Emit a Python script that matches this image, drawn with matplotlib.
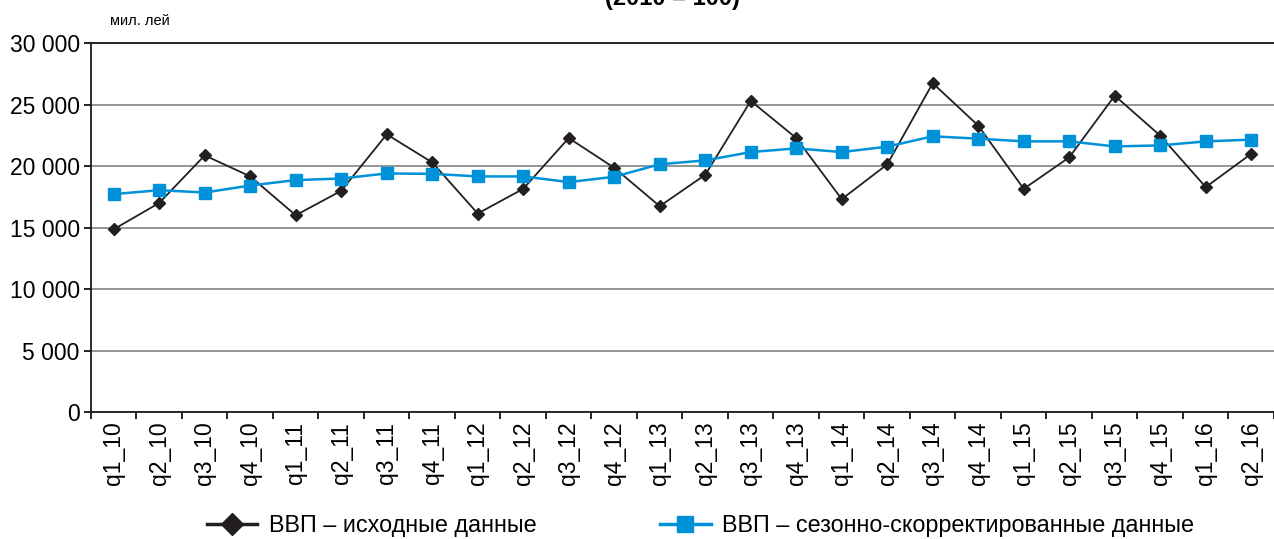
import matplotlib.pyplot as plt
import numpy as np

plt.rcParams['font.family'] = ['Liberation Sans', 'DejaVu Sans']

quarters = ['q1_10', 'q2_10', 'q3_10', 'q4_10',
            'q1_11', 'q2_11', 'q3_11', 'q4_11',
            'q1_12', 'q2_12', 'q3_12', 'q4_12',
            'q1_13', 'q2_13', 'q3_13', 'q4_13',
            'q1_14', 'q2_14', 'q3_14', 'q4_14',
            'q1_15', 'q2_15', 'q3_15', 'q4_15',
            'q1_16', 'q2_16']

gdp_raw = [14860, 17000, 20870, 19160,
           16000, 17990, 22580, 20300,
           16140, 18150, 22280, 19860,
           16740, 19290, 25300, 22280,
           17310, 20140, 26740, 23290,
           18150, 20710, 25730, 22470,
           18290, 21000]

gdp_sa = [17720, 18040, 17850, 18420,
          18860, 18990, 19400, 19370,
          19160, 19160, 18700, 19130,
          20150, 20460, 21140, 21440,
          21140, 21580, 22420, 22230,
          22010, 22010, 21600, 21680,
          22010, 22150]

fig = plt.figure(figsize=(12.74, 5.39), dpi=100)
ax = fig.add_axes([0.0714, 0.2356, 0.9286, 0.6844])

x = np.arange(len(quarters)) + 0.5

ax.plot(x, gdp_raw, '-', color='#231f20', linewidth=1.3, marker='D',
        markersize=6, label='ВВП – исходные данные', zorder=3)
ax.plot(x, gdp_sa, '-', color='#0092d8', linewidth=1.8, marker='s',
        markersize=8.5, label='ВВП – сезонно-скорректированные данные', zorder=4)

ax.set_xlim(0, len(quarters))
ax.set_ylim(0, 30000)
ax.set_yticks(np.arange(0, 30001, 5000))
ax.set_yticklabels([f'{v:,}'.replace(',', ' ') for v in range(0, 30001, 5000)],
                   fontsize=16.5)

ax.set_xticks(x)
ax.set_xticklabels(quarters, rotation=90, fontsize=16.5)
ax.set_xticks(np.arange(0, len(quarters) + 1), minor=True)
ax.tick_params(axis='x', which='major', length=0, pad=7)
ax.tick_params(axis='x', which='minor', length=5, width=1.2, direction='out')
ax.tick_params(axis='y', length=5, width=1.2, direction='out', pad=3)

ax.grid(axis='y', color='#777777', linewidth=1.1)
ax.set_axisbelow(True)
ax.spines['right'].set_visible(False)
for s in ['left', 'bottom', 'top']:
    ax.spines[s].set_linewidth(1.3)
    ax.spines[s].set_color('#1a1a1a')

fig.text(110 / 1274, 1 - 25 / 539, 'мил. лей', fontsize=10.5, va='baseline')
fig.text(672 / 1274, 1 - 5 / 539, '(2010 = 100)', fontsize=17,
         fontweight='bold', ha='center', va='baseline')

leg = fig.legend(loc='lower center', bbox_to_anchor=(0.55, -0.035), ncol=2,
                 frameon=False, fontsize=16.8, columnspacing=5.3, handlelength=2.15,
                 handletextpad=0.5)
for h in leg.legend_handles:
    h.set_linewidth(2.5)
    h.set_markersize(11)

fig.savefig('out.png', dpi=100, facecolor='white')
